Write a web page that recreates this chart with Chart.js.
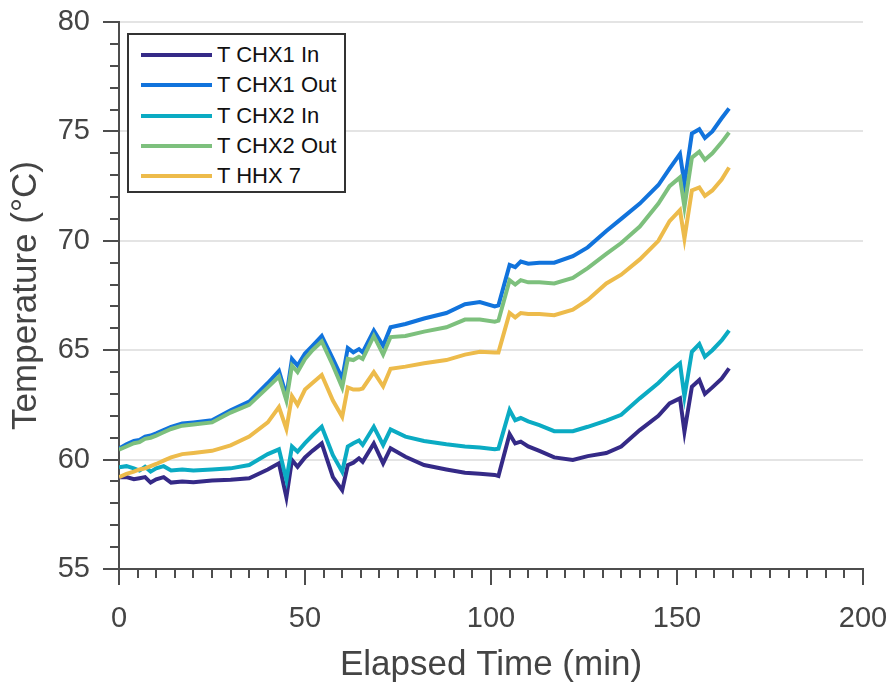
<!DOCTYPE html>
<html>
<head>
<meta charset="utf-8">
<script src="https://cdn.jsdelivr.net/npm/chart.js@4.4.1/dist/chart.umd.min.js"></script>
<style>
  body { margin: 0; background: #fff; }
  #wrap { position: relative; width: 893px; height: 684px; }
  #legend {
    position: absolute; left: 127px; top: 33px; width: 215px; height: 156px;
    border: 2px solid #333; background: #fff;
    font-family: "Liberation Sans", Arial, sans-serif; font-size: 22px; color: #111;
  }
  .item { position: absolute; left: 0; height: 30px; display: flex; align-items: center; }
  .swatch { width: 71px; height: 4px; margin-left: 12px; margin-right: 5px; }
</style>
</head>
<body>
<div id="wrap">
  <canvas id="chart"></canvas>
  <div id="legend"></div>
</div>
<script>
const times = [0, 2, 4, 5.5, 7, 8.5, 10, 12, 14, 17, 20, 25, 30, 35, 40, 43, 45, 46.5, 48, 50,
  52, 54.5, 57.5, 60, 61.5, 63, 64.5, 65.5, 68.5, 71, 73, 77, 82, 88, 93, 97, 101, 102, 105, 106.5,
  108, 110, 113, 117, 122, 126, 131, 135, 140, 145, 148, 150.8, 152, 154, 156, 157.5, 159.5, 162, 164];

const chx1In = [59.19, 59.2, 59.1, 59.15, 59.2, 58.95, 59.1, 59.2, 58.95, 59.0, 58.97, 59.05, 59.08, 59.15, 59.55, 59.83, 58.28, 59.98, 59.67, 60.1,
  60.4, 60.74, 59.2, 58.6, 59.75, 59.86, 60.06, 59.9, 60.74, 59.83, 60.52, 60.13, 59.75, 59.55, 59.4, 59.35, 59.3, 59.25, 61.17, 60.74,
  60.82, 60.6, 60.4, 60.1, 59.98, 60.16, 60.3, 60.6, 61.35, 62.0, 62.57, 62.8, 61.27, 63.33, 63.64, 63.0, 63.3, 63.7, 64.17];

const chx1Out = [60.5, 60.7, 60.85, 60.9, 61.05, 61.1, 61.2, 61.35, 61.5, 61.65, 61.7, 61.8, 62.25, 62.65, 63.5, 64.05, 62.9, 64.6, 64.3, 64.85,
  65.2, 65.65, 64.6, 63.7, 65.1, 64.9, 65.05, 64.9, 65.9, 65.2, 66.05, 66.2, 66.45, 66.7, 67.1, 67.2, 67.0, 67.05, 68.9, 68.8,
  69.05, 68.95, 69.0, 69.0, 69.3, 69.7, 70.45, 71.0, 71.7, 72.55, 73.3, 73.97, 72.6, 74.9, 75.1, 74.7, 75.0, 75.6, 76.05];

const chx2In = [59.65, 59.7, 59.6, 59.5, 59.67, 59.45, 59.6, 59.7, 59.5, 59.55, 59.5, 59.55, 59.6, 59.75, 60.25, 60.47, 59.07, 60.6, 60.36, 60.75,
  61.1, 61.5, 60.2, 59.45, 60.6, 60.75, 60.87, 60.67, 61.5, 60.67, 61.38, 61.05, 60.85, 60.7, 60.6, 60.55, 60.47, 60.5, 62.27, 61.8,
  61.9, 61.75, 61.58, 61.3, 61.3, 61.5, 61.78, 62.05, 62.8, 63.5, 64.0, 64.4, 62.87, 64.93, 65.28, 64.7, 65.0, 65.45, 65.9];

const chx2Out = [60.45, 60.6, 60.75, 60.8, 60.95, 61.0, 61.1, 61.25, 61.4, 61.55, 61.6, 61.7, 62.15, 62.5, 63.3, 63.8, 62.7, 64.3, 64.0, 64.6,
  65.0, 65.4, 64.3, 63.3, 64.6, 64.55, 64.7, 64.6, 65.65, 64.8, 65.6, 65.65, 65.85, 66.05, 66.4, 66.4, 66.3, 66.35, 68.2, 68.0,
  68.2, 68.1, 68.1, 68.05, 68.3, 68.75, 69.4, 69.9, 70.65, 71.7, 72.5, 72.9, 71.55, 73.8, 74.07, 73.7, 74.0, 74.5, 74.95];

const hhx7 = [59.2, 59.35, 59.45, 59.55, 59.6, 59.7, 59.8, 59.95, 60.1, 60.25, 60.3, 60.4, 60.65, 61.05, 61.7, 62.4, 61.4, 62.9, 62.5, 63.2,
  63.5, 63.87, 62.7, 61.96, 63.3, 63.2, 63.2, 63.25, 64.0, 63.35, 64.15, 64.25, 64.4, 64.55, 64.8, 64.93, 64.9, 64.9, 66.7, 66.5,
  66.7, 66.65, 66.65, 66.6, 66.85, 67.3, 68.05, 68.45, 69.15, 70.0, 70.9, 71.4, 70.1, 72.3, 72.44, 72.05, 72.3, 72.8, 73.35];

const seriesNames = ["T CHX1 In", "T CHX1 Out", "T CHX2 In", "T CHX2 Out", "T HHX 7"];
const seriesValues = [chx1In, chx1Out, chx2In, chx2Out, hhx7];
const seriesColors = ["#352A87", "#1173DC", "#0BABC3", "#7DC07D", "#EDBB4B"];

const axisColor = "#4d4d4d";
const textColor = "#444";
const fontFamily = '"Liberation Sans", Arial, sans-serif';

const datasets = seriesNames.map((name, i) => ({
  label: name,
  data: times.map((t, j) => ({ x: t, y: seriesValues[i][j] })),
  borderColor: seriesColors[i],
  backgroundColor: seriesColors[i],
  borderWidth: 4,
  pointRadius: 0,
  tension: 0,
  order: seriesNames.length - i
}));

// drop the automatic room chart.js keeps for edge labels
function noEdgePadding(scale) {
  scale.paddingLeft = 0;
  scale.paddingRight = 0;
  scale.paddingTop = 0;
  scale.paddingBottom = 0;
}

// outward major/minor tick marks, like the original axes
const tickMarks = {
  id: "tickMarks",
  afterDraw(chart) {
    const { ctx, chartArea } = chart;
    const xs = chart.scales.x, ys = chart.scales.y;
    ctx.save();
    ctx.strokeStyle = axisColor;
    ctx.lineWidth = 2;
    ctx.beginPath();
    for (let v = 55; v <= 80; v++) {
      const py = Math.round(ys.getPixelForValue(v));
      const len = v % 5 === 0 ? 16 : 9;
      ctx.moveTo(chartArea.left - len, py);
      ctx.lineTo(chartArea.left, py);
    }
    for (let t = 0; t <= 200; t += 5) {
      const px = Math.round(xs.getPixelForValue(t));
      const len = t % 50 === 0 ? 16 : 9;
      ctx.moveTo(px, chartArea.bottom);
      ctx.lineTo(px, chartArea.bottom + len);
    }
    ctx.stroke();
    ctx.restore();
  }
};

new Chart(document.getElementById("chart"), {
  type: "line",
  data: { datasets },
  options: {
    responsive: true,
    maintainAspectRatio: false,
    animation: false,
    layout: { padding: { top: 22, right: 30, left: 0, bottom: 0 } },
    plugins: { legend: { display: false }, tooltip: { enabled: false } },
    scales: {
      x: {
        type: "linear",
        min: 0, max: 200,
        afterFit(scale) { scale.height = 115; noEdgePadding(scale); },
        grid: { display: false, drawTicks: false },
        border: { display: true, color: axisColor, width: 2 },
        ticks: {
          stepSize: 5, autoSkip: false, maxRotation: 0, padding: 33,
          color: textColor, font: { family: fontFamily, size: 29, lineHeight: 1.2 },
          callback: v => (v % 50 === 0 ? v : "")
        },
        title: {
          display: true, text: "Elapsed Time (min)", color: textColor,
          font: { family: fontFamily, size: 35, lineHeight: 1 },
          padding: { top: 0, bottom: 1 }
        }
      },
      y: {
        min: 55, max: 80,
        afterFit(scale) { scale.width = 119; noEdgePadding(scale); },
        grid: {
          drawTicks: false,
          lineWidth: 2,
          color: c => (c.tick && c.tick.value % 5 === 0 ? "#e4e4e4" : "rgba(0,0,0,0)")
        },
        border: { display: true, color: axisColor, width: 2 },
        ticks: {
          stepSize: 1, autoSkip: false, padding: 29,
          color: textColor, font: { family: fontFamily, size: 29, lineHeight: 1.2 },
          callback: v => (v % 5 === 0 ? v : "")
        },
        title: {
          display: true, text: "Temperature (°C)", color: textColor,
          font: { family: fontFamily, size: 35, lineHeight: 1 },
          padding: { top: 9, bottom: 0 }
        }
      }
    }
  },
  plugins: [tickMarks]
});

// legend box inside the plot, built from the same series lists
const legend = document.getElementById("legend");
seriesNames.forEach((name, i) => {
  const item = document.createElement("div");
  item.className = "item";
  item.style.top = (5 + i * 30.3) + "px";
  const sw = document.createElement("span");
  sw.className = "swatch";
  sw.style.background = seriesColors[i];
  const label = document.createElement("span");
  label.textContent = name;
  item.appendChild(sw);
  item.appendChild(label);
  legend.appendChild(item);
});
</script>
</body>
</html>
